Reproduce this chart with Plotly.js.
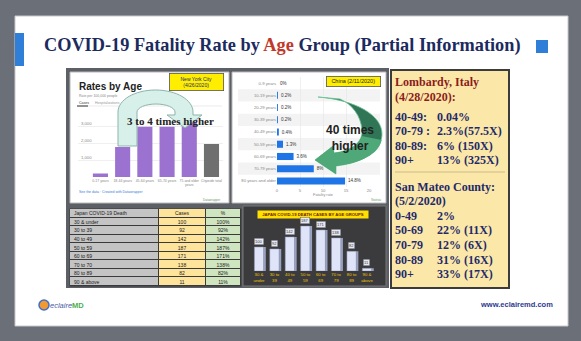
<!DOCTYPE html>
<html><head><meta charset="utf-8">
<script src="https://cdn.plot.ly/plotly-3.0.1.min.js"></script>
<style>html,body{margin:0;padding:0;background:#6b6f78;}#chart{width:581px;height:341px;}</style>
</head><body><div id="chart"></div>
<script>
const W = 581, H = 341;
// ---- NYC (4/26/2020) rates per 100,000 ----
const nycAges = ['0-17 years', '18-44 years', '45-64 years', '65-74 years', '75 and older<br>years', 'Citywide total'];
const nycRates = [200, 1760, 2950, 2950, 3250, 1940];
const nycTicks = [1000, 2000, 3000];
// ---- China (2/11/2020) fatality rate % ----
const chinaAges = ['0-9 years', '10-19 years', '20-29 years', '30-39 years', '40-49 years', '50-59 years', '60-69 years', '70-79 years', '80 years and older'];
const chinaRates = [0, 0.2, 0.2, 0.2, 0.4, 1.3, 3.6, 8, 14.8];
const chinaTicks = [0, 5, 10, 15, 20];
// ---- Japan COVID-19 deaths ----
const tableHeader = ['Japan COVID-19 Death', 'Cases', '%'];
const japanGroups = ['30 & under', '30 to 39', '40 to 49', '50 to 59', '60 to 69', '70 to 70', '80 to 89', '90 & above'];
const japanCases = [100, 92, 142, 187, 171, 138, 82, 11];
const japanPct = ['100%', '92%', '142%', '187%', '171%', '138%', '82%', '11%'];
const japanChartLabels = ['30 &<br>under', '30 to<br>39', '40 to<br>49', '50 to<br>59', '60 to<br>69', '70 to<br>79', '80 to<br>89', '90 &<br>above'];
// ---- Lombardy / San Mateo ----
const lombardyAges = ['40-49:', '70-79 :', '80-89:', '90+'];
const lombardyRates = ['0.04%', '2.3%(57.5X)', '6% (150X)', '13% (325X)'];
const sanMateoAges = ['0-49', '50-69', '70-79', '80-89', '90+'];
const sanMateoRates = ['2%', '22% (11X)', '12% (6X)', '31% (16X)', '33% (17X)'];

const px = x => x / W, py = y => 1 - y / H;
const SERIF = 'Liberation Serif, Times New Roman, serif';
const SANS = 'Liberation Sans, Arial, sans-serif';
function rect(x0, y0, x1, y1, fill, line, lw, layer) {
  return {type: 'rect', xref: 'paper', yref: 'paper', x0: px(x0), x1: px(x1), y0: py(y1), y1: py(y0),
    fillcolor: fill, line: {color: line || fill, width: lw || 0}, layer: layer || 'below'};
}
function seg(x0, y0, x1, y1, color, lw, layer) {
  return {type: 'line', xref: 'paper', yref: 'paper', x0: px(x0), x1: px(x1), y0: py(y0), y1: py(y1),
    line: {color: color, width: lw}, layer: layer || 'below'};
}
function path(arr, fill, line, lw) {
  let s = '', k = 0;
  for (const a of arr) {
    if (typeof a === 'string') { s += a; k = 0; }
    else { s += (k % 2 === 0 ? px(a).toFixed(5) + ',' : py(a).toFixed(5) + ' '); k++; }
  }
  return {type: 'path', xref: 'paper', yref: 'paper', path: s, fillcolor: fill, line: {color: line, width: lw}, layer: 'above'};
}
function txt(x, y, text, size, color, opts) {
  return Object.assign({xref: 'paper', yref: 'paper', x: px(x), y: py(y), text: text, showarrow: false,
    font: {size: size, color: color, family: SANS}, xanchor: 'left', yanchor: 'middle'}, opts || {});
}

// table matrices built from the arrays
const tableRows = [tableHeader].concat(japanGroups.map((g, i) => [g, String(japanCases[i]), japanPct[i]]));
const tableZ = tableRows.map(() => [0, 1, 2]);
const tableText = tableRows.map(r => ['', r[1], r[2]]);
const tableColEdges = [0, 88, 134, 169];

const traces = [
  {type: 'bar', x: nycAges, y: nycRates, xaxis: 'x', yaxis: 'y', width: 0.68,
    marker: {color: nycAges.map((a, i) => i === nycAges.length - 1 ? '#6f6f6f' : '#9b72d0')}, hoverinfo: 'none'},
  {type: 'bar', orientation: 'h', y: chinaAges, x: chinaRates, xaxis: 'x2', yaxis: 'y2', width: 0.58,
    marker: {color: '#1f74e6'}, text: chinaRates.map(v => v + '%'), textposition: 'outside', cliponaxis: false,
    textfont: {size: 4.5, color: '#333', family: SANS}, hoverinfo: 'none'},
  {type: 'bar', x: japanGroups, y: japanCases, xaxis: 'x3', yaxis: 'y3', width: 0.14, offset: 0.3,
    marker: {color: '#9aa2c2'}, hoverinfo: 'none'},
  {type: 'bar', x: japanGroups, y: japanCases, xaxis: 'x3', yaxis: 'y3', width: 0.6, offset: -0.3,
    marker: {color: '#dfe4f8', line: {color: '#8d95b8', width: 0.5}}, hoverinfo: 'none'},
  {type: 'heatmap', xaxis: 'x4', yaxis: 'y4', x: tableColEdges, y: tableRows.map((r, i) => i), z: tableZ,
    text: tableText, texttemplate: '%{text}', textfont: {size: 5, color: '#222', family: SANS},
    zmin: 0, zmax: 2, showscale: false, xgap: 1, ygap: 1, hoverinfo: 'skip',
    colorscale: [[0, '#c4c4c4'], [0.33, '#c4c4c4'], [0.34, '#fde49a'], [0.66, '#fde49a'], [0.67, '#cfe5bf'], [1, '#cfe5bf']]}
];

const shapes = [
  rect(15, 16, 568, 326, '#ffffff', '#c9c9c9', 1),
  rect(15, 33, 24, 66, '#2f7fd8'),
  rect(536, 40, 548, 53, '#2f7fd8'),
  rect(66, 68, 389, 288, '#5c5f66'),
  rect(70, 72, 229, 203, '#ffffff', '#b8b8b8', 1),
  rect(232, 72, 386, 203, '#ffffff', '#b8b8b8', 1),
  seg(77, 106, 222, 106, '#dddddd', 0.6),
  seg(77, 106, 88, 106, '#333333', 1),
  rect(69.5, 208.5, 241.5, 286.5, '#3a3a3a'),
  rect(243, 206, 386, 286, '#3b3b3d', '#777777', 1),
  rect(391, 70, 509, 288, '#fbe8a8', '#3b3b3b', 2),
  seg(395, 172, 505, 172, '#c9b98c', 1),
  {type: 'circle', xref: 'paper', yref: 'paper', x0: px(39), x1: px(49), y0: py(310), y1: py(300), fillcolor: '#f29a2e', line: {color: '#3b6fd0', width: 1.5}, layer: 'below'}
];
[1, 3, 5, 7].forEach(i => {
  shapes.push({type: 'rect', xref: 'paper', yref: 'y2', x0: px(238), x1: px(380), y0: i - 0.5, y1: i + 0.5,
    fillcolor: '#f3f3f3', line: {width: 0}, layer: 'below'});
});
shapes.push(path(['M', 118, 146, 'L', 118, 112, 'C', 118, 99.8, 134.8, 90, 155.5, 90, 'C', 176.2, 90, 193, 99.8, 193, 112,
  'L', 193, 115, 'L', 202, 115, 'L', 185, 128, 'L', 167, 115, 'L', 175, 115, 'L', 175, 112,
  'C', 175, 107.6, 166.3, 104, 156, 104, 'C', 145.7, 104, 137, 107.6, 137, 112, 'L', 137, 146, 'Z'],
  'rgba(214,239,232,0.97)', '#8fb3ab', 1));
shapes.push(path(['M', 318, 97, 'C', 355, 100, 383, 115, 382, 135, 'C', 381, 152, 362, 163, 336, 166,
  'L', 336, 174, 'L', 315, 160, 'L', 333, 146, 'L', 334, 153,
  'C', 352, 151, 363, 142, 362, 130, 'C', 361, 116, 352, 104, 340, 99, 'Z'],
  '#2f7556', '#6cc196', 0.8));
shapes.push(path(['M', 381.6, 140, 'C', 379, 154, 361, 163, 336, 166,
  'L', 336, 174, 'L', 315, 160, 'L', 333, 146, 'L', 334, 153,
  'C', 350, 151, 360, 145, 361.6, 136, 'Z'],
  '#4fa877', 'rgba(0,0,0,0)', 0));

const ann = [
  txt(282, 45, '<b>COVID-19 Fatality Rate by <span style="color:#c0392b">Age</span> Group (Partial Information)</b>', 18.3, '#1c2a5e',
    {xanchor: 'center', font: {size: 18.3, color: '#1c2a5e', family: SERIF}}),
  txt(77, 86, '<b>Rates by Age</b>', 10, '#222'),
  txt(77, 96, 'Rate per 100,000 people', 3.5, '#888'),
  txt(77, 103, 'Cases', 3.5, '#333'),
  txt(93, 103, 'Hospitalizations', 3.5, '#999'),
  txt(77, 192, 'See the data · Created with Datawrapper', 3.5, '#3a7bd5'),
  txt(222, 200, 'Datawrapper', 3, '#6a9a6a', {xanchor: 'right'}),
  txt(383, 200, 'Statista', 3, '#6a9a6a', {xanchor: 'right'}),
  txt(196.5, 82, 'New York City<br>(4/26/2020)', 5, '#1a2a7a', {xanchor: 'center', width: 53, height: 16, bgcolor: '#ffee00', bordercolor: '#555', borderwidth: 0.8, borderpad: 0}),
  txt(353.5, 81.5, 'China (2/11/2020)', 5.5, '#1a1a1a', {xanchor: 'center', width: 53, height: 9, bgcolor: '#ffee00', bordercolor: '#555', borderwidth: 0.8, borderpad: 0}),
  txt(170, 121, '<b>3 to 4 times higher</b>', 11, '#222', {xanchor: 'center', font: {size: 11, color: '#222', family: SERIF}}),
  txt(350, 138, '<b>40 times<br>higher</b>', 12, '#222', {xanchor: 'center'}),
  txt(313, 214, '<b>JAPAN COVID-19 DEATH CASES BY AGE GROUPS</b>', 4.2, '#6b1a00', {xanchor: 'center', width: 110, height: 7, bgcolor: '#ffe000', borderpad: 0}),
  txt(48, 305, '<i>eclaire</i><b><span style="color:#4caf50">MD</span></b>', 7.5, '#4a5aa0'),
  txt(555, 304, '<b>www.eclairemd.com</b>', 7.5, '#2b3990', {xanchor: 'right'}),
  txt(393, 82, '<b>Lombardy, Italy</b>', 12, '#8b1c1c', {font: {size: 12, color: '#8b1c1c', family: SERIF}}),
  txt(393, 97, '<b>(4/28/2020):</b>', 12, '#8b1c1c', {font: {size: 12, color: '#8b1c1c', family: SERIF}}),
  txt(393, 187, '<b>San Mateo County:</b>', 12, '#1f2a6b', {font: {size: 12, color: '#1f2a6b', family: SERIF}}),
  txt(393, 201, '<b>(5/2/2020)</b>', 12, '#1f2a6b', {font: {size: 12, color: '#1f2a6b', family: SERIF}})
];
const navyFont = {size: 12, color: '#1f2a6b', family: SERIF};
lombardyAges.forEach((a, i) => {
  ann.push(txt(393, 117 + i * 14.4, '<b>' + a + '</b>', 12, '#1f2a6b', {font: navyFont}));
  ann.push(txt(435, 117 + i * 14.4, '<b>' + lombardyRates[i] + '</b>', 12, '#1f2a6b', {font: navyFont}));
});
sanMateoAges.forEach((a, i) => {
  ann.push(txt(393, 216 + i * 14.5, '<b>' + a + '</b>', 12, '#1f2a6b', {font: navyFont}));
  ann.push(txt(435, 216 + i * 14.5, '<b>' + sanMateoRates[i] + '</b>', 12, '#1f2a6b', {font: navyFont}));
});
japanGroups.forEach((g, i) => {
  ann.push({xref: 'x3', yref: 'y3', x: g, y: japanCases[i], yanchor: 'bottom', yshift: 2, showarrow: false,
    text: String(japanCases[i]), font: {size: 4, color: '#333', family: SANS}, bgcolor: '#e6e8f4',
    bordercolor: '#666', borderwidth: 0.5, borderpad: 0.6});
});
tableRows.forEach((r, i) => {
  ann.push({xref: 'x4', yref: 'y4', x: 2, y: i, xanchor: 'left', yanchor: 'middle', showarrow: false,
    text: r[0], font: {size: 5, color: '#222', family: SANS}});
});

const tickFont = {size: 4.2, color: '#888', family: SANS};
const layout = {
  width: W, height: H, autosize: false, margin: {l: 0, r: 0, t: 0, b: 0, pad: 0},
  paper_bgcolor: '#6b6f78', plot_bgcolor: 'rgba(0,0,0,0)', showlegend: false, barmode: 'overlay',
  xaxis: {domain: [px(78), px(222.6)], anchor: 'y', type: 'category', range: [-1.01, 5.5], showgrid: false, showline: false, zeroline: false,
    ticks: '', tickangle: 0, tickfont: {size: 3.5, color: '#888', family: SANS}, fixedrange: true},
  yaxis: {domain: [py(177), py(115.8)], anchor: 'x', range: [0, 3600], tickvals: nycTicks, tickformat: ',', ticklabelposition: 'inside top',
    gridcolor: '#e4e4e4', gridwidth: 0.6, zeroline: false, showline: false, ticks: '', tickfont: tickFont, fixedrange: true},
  xaxis2: {domain: [px(277), px(369)], anchor: 'y2', range: [0, 20], tickvals: chinaTicks, ticksuffix: '%', gridcolor: '#e6e6e6', gridwidth: 0.6,
    zeroline: false, showline: false, ticks: '', tickangle: 0, tickfont: tickFont, fixedrange: true,
    title: {text: 'Fatality rate', font: {size: 3.8, color: '#888', family: SANS}, standoff: 1}},
  yaxis2: {domain: [py(187.1), py(76.9)], anchor: 'x2', type: 'category', categoryorder: 'array', categoryarray: chinaAges, autorange: 'reversed',
    showgrid: false, zeroline: false, showline: false, ticks: '', tickfont: tickFont, fixedrange: true},
  xaxis3: {domain: [px(251.3), px(374.7)], anchor: 'y3', type: 'category', tickvals: japanGroups, ticktext: japanChartLabels,
    showgrid: false, zeroline: false, showline: false, ticks: '', tickangle: 0, tickfont: {size: 4.3, color: '#f0c400', family: SANS}, fixedrange: true},
  yaxis3: {domain: [py(271), py(218.2)], anchor: 'x3', range: [0, 220], visible: false, fixedrange: true},
  xaxis4: {domain: [px(70), px(241)], anchor: 'y4', range: [0, 169], visible: false, fixedrange: true},
  yaxis4: {domain: [py(286), py(209)], anchor: 'x4', range: [8.5, -0.5], visible: false, fixedrange: true},
  shapes: shapes, annotations: ann
};
Plotly.newPlot('chart', traces, layout, {displayModeBar: false, staticPlot: true});
</script></body></html>
